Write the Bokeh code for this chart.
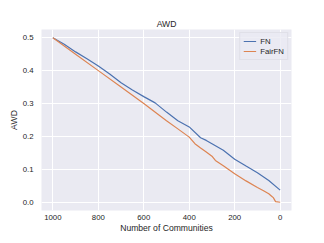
from bokeh.plotting import figure
from bokeh.models import Range1d, FixedTicker, Legend, LegendItem, CustomJSTickFormatter
from bokeh.embed import file_html
from bokeh.resources import INLINE

# Data
fn_x = [1000, 950, 900, 850, 800, 750, 700, 650, 600, 550, 500, 450, 400, 350, 325, 300, 250, 200, 150, 100, 50, 0]
fn_y = [0.500, 0.480, 0.457, 0.436, 0.414, 0.390, 0.363, 0.341, 0.321, 0.302, 0.274, 0.248, 0.229, 0.196, 0.188, 0.178, 0.158, 0.131, 0.110, 0.090, 0.066, 0.037]

ffn_x = [1000, 900, 800, 700, 600, 500, 450, 400, 375, 350, 325, 300, 285, 250, 225, 200, 150, 100, 75, 50, 40, 30, 20, 0]
ffn_y = [0.500, 0.450, 0.400, 0.350, 0.300, 0.248, 0.223, 0.198, 0.178, 0.165, 0.153, 0.140, 0.127, 0.111, 0.099, 0.087, 0.065, 0.045, 0.036, 0.026, 0.020, 0.014, 0.002, 0.000]

x_ticks = [0, 200, 400, 600, 800, 1000]
y_ticks = [0.0, 0.1, 0.2, 0.3, 0.4, 0.5]

FONT = "Liberation Sans"

p = figure(width=316, height=235, output_backend="svg", toolbar_location=None,
           x_range=Range1d(1050, -50), y_range=Range1d(-0.025, 0.525),
           min_border_left=41, min_border_right=25, min_border_top=29, min_border_bottom=23,
           title="AWD")
p.background_fill_color = "#EAEAF2"
p.border_fill_color = "white"
p.outline_line_color = None

p.title.align = "center"
p.title.text_font = FONT
p.title.text_font_size = "8.6px"
p.title.text_font_style = "normal"
p.title.text_color = "#262626"
p.title.standoff = 2

for ax in (p.xaxis, p.yaxis):
    ax.axis_line_color = None
    ax.major_tick_line_color = None
    ax.minor_tick_line_color = None
    ax.major_tick_out = 0
    ax.major_tick_in = 0
    ax.minor_tick_out = 0
    ax.minor_tick_in = 0
    ax.major_label_text_font = FONT
    ax.major_label_text_font_size = "7.8px"
    ax.major_label_text_color = "#262626"
    ax.axis_label_text_font = FONT
    ax.axis_label_text_font_size = "8.6px"
    ax.axis_label_text_font_style = "normal"
    ax.axis_label_text_color = "#262626"

p.xaxis.ticker = FixedTicker(ticks=x_ticks)
p.yaxis.ticker = FixedTicker(ticks=y_ticks)
p.yaxis.formatter = CustomJSTickFormatter(code="return tick.toFixed(1);")
p.xaxis.axis_label = "Number of Communities"
p.yaxis.axis_label = "AWD"
p.xaxis.major_label_standoff = 4
p.yaxis.major_label_standoff = 8
p.xaxis.axis_label_standoff = 0
p.yaxis.axis_label_standoff = 1

p.xgrid.grid_line_color = "white"
p.ygrid.grid_line_color = "white"
p.xgrid.grid_line_width = 1
p.ygrid.grid_line_width = 1

r1 = p.line(fn_x, fn_y, line_color="#4C72B0", line_width=1.2)
r2 = p.line(ffn_x, ffn_y, line_color="#DD8452", line_width=1.2)

legend = Legend(items=[LegendItem(label="FN", renderers=[r1]),
                       LegendItem(label="FairFN", renderers=[r2])],
                location="top_right")
legend.margin = 3
legend.padding = 3
legend.spacing = 0
legend.glyph_width = 13
legend.glyph_height = 10
legend.label_height = 10
legend.label_standoff = 4
legend.label_text_font = FONT
legend.label_text_font_size = "7.8px"
legend.label_text_color = "#262626"
legend.background_fill_color = "#EAEAF2"
legend.background_fill_alpha = 0.8
legend.border_line_color = "#D5D5DD"
legend.border_line_width = 1
p.add_layout(legend)

open("out.html", "w").write(file_html(p, INLINE))
